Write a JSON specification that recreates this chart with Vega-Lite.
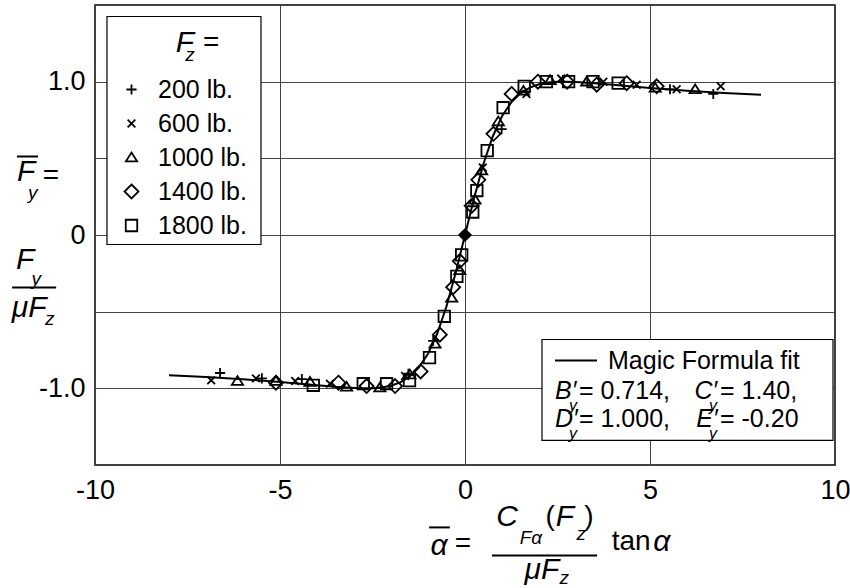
{
  "$schema": "https://vega.github.io/schema/vega-lite/v6.json",
  "width": 740,
  "height": 460,
  "autosize": {"type": "none"},
  "padding": {"left": 95, "top": 5, "right": 15, "bottom": 123},
  "config": {
    "view": {"stroke": "black", "strokeWidth": 1.5},
    "font": "Liberation Sans"
  },
  "datasets": {
    "fit": [
      {"x": -8, "y": -0.9145}, {"x": -7, "y": -0.9262}, {"x": -6, "y": -0.9409}, {"x": -5, "y": -0.9588},
      {"x": -4, "y": -0.9797}, {"x": -3.5, "y": -0.9901}, {"x": -3, "y": -0.9973}, {"x": -2.75, "y": -0.9999},
      {"x": -2.5, "y": -0.9992}, {"x": -2.25, "y": -0.9943}, {"x": -2, "y": -0.9829}, {"x": -1.75, "y": -0.9613},
      {"x": -1.5, "y": -0.9243}, {"x": -1.25, "y": -0.8648}, {"x": -1, "y": -0.7743}, {"x": -0.75, "y": -0.6425},
      {"x": -0.5, "y": -0.4651}, {"x": -0.25, "y": -0.2453}, {"x": 0, "y": 0},
      {"x": 0.25, "y": 0.2453}, {"x": 0.5, "y": 0.4651}, {"x": 0.75, "y": 0.6425}, {"x": 1, "y": 0.7743},
      {"x": 1.25, "y": 0.8648}, {"x": 1.5, "y": 0.9243}, {"x": 1.75, "y": 0.9613}, {"x": 2, "y": 0.9829},
      {"x": 2.25, "y": 0.9943}, {"x": 2.5, "y": 0.9992}, {"x": 2.75, "y": 0.9999}, {"x": 3, "y": 0.9973},
      {"x": 3.5, "y": 0.9901}, {"x": 4, "y": 0.9797}, {"x": 5, "y": 0.9588}, {"x": 6, "y": 0.9409},
      {"x": 7, "y": 0.9262}, {"x": 8, "y": 0.9145}
    ],
    "pts": [
      {"Fz": 200, "x": -6.62, "y": -0.9}, {"Fz": 200, "x": -5.49, "y": -0.935}, {"Fz": 200, "x": -4.41, "y": -0.94},
      {"Fz": 200, "x": -1.53, "y": -0.905}, {"Fz": 200, "x": -0.86, "y": -0.69}, {"Fz": 200, "x": 0.99, "y": 0.69},
      {"Fz": 200, "x": 5.54, "y": 0.95}, {"Fz": 200, "x": 6.71, "y": 0.92},
      {"Fz": 600, "x": -6.86, "y": -0.948}, {"Fz": 600, "x": -5.65, "y": -0.935}, {"Fz": 600, "x": -4.59, "y": -0.952},
      {"Fz": 600, "x": -3.65, "y": -0.97}, {"Fz": 600, "x": -1.62, "y": -0.92}, {"Fz": 600, "x": 0.48, "y": 0.44},
      {"Fz": 600, "x": 1.66, "y": 0.92}, {"Fz": 600, "x": 2.6, "y": 1.02}, {"Fz": 600, "x": 3.74, "y": 1.0},
      {"Fz": 600, "x": 4.64, "y": 0.98}, {"Fz": 600, "x": 5.72, "y": 0.95}, {"Fz": 600, "x": 6.91, "y": 0.97},
      {"Fz": 1000, "x": -6.15, "y": -0.952}, {"Fz": 1000, "x": -5.11, "y": -0.952}, {"Fz": 1000, "x": -4.19, "y": -0.958},
      {"Fz": 1000, "x": -3.2, "y": -0.99}, {"Fz": 1000, "x": -2.3, "y": -0.995}, {"Fz": 1000, "x": -1.49, "y": -0.91},
      {"Fz": 1000, "x": -0.81, "y": -0.71}, {"Fz": 1000, "x": -0.36, "y": -0.41}, {"Fz": 1000, "x": -0.14, "y": -0.23},
      {"Fz": 1000, "x": 0.27, "y": 0.23}, {"Fz": 1000, "x": 0.45, "y": 0.42}, {"Fz": 1000, "x": 0.9, "y": 0.74},
      {"Fz": 1000, "x": 1.58, "y": 0.94}, {"Fz": 1000, "x": 2.3, "y": 1.01}, {"Fz": 1000, "x": 3.29, "y": 1.0},
      {"Fz": 1000, "x": 5.14, "y": 0.96}, {"Fz": 1000, "x": 6.22, "y": 0.95},
      {"Fz": 1400, "x": -5.11, "y": -0.963}, {"Fz": 1400, "x": -3.42, "y": -0.963}, {"Fz": 1400, "x": -2.66, "y": -0.985},
      {"Fz": 1400, "x": -1.89, "y": -0.985}, {"Fz": 1400, "x": -1.2, "y": -0.89}, {"Fz": 1400, "x": -0.68, "y": -0.65},
      {"Fz": 1400, "x": -0.32, "y": -0.34}, {"Fz": 1400, "x": -0.14, "y": -0.17}, {"Fz": 1400, "x": 0.18, "y": 0.19},
      {"Fz": 1400, "x": 0.36, "y": 0.36}, {"Fz": 1400, "x": 0.77, "y": 0.66}, {"Fz": 1400, "x": 1.26, "y": 0.92},
      {"Fz": 1400, "x": 1.97, "y": 1.0}, {"Fz": 1400, "x": 2.76, "y": 1.0}, {"Fz": 1400, "x": 3.56, "y": 0.98},
      {"Fz": 1400, "x": 4.37, "y": 0.99}, {"Fz": 1400, "x": 5.18, "y": 0.97},
      {"Fz": 1800, "x": -4.1, "y": -0.98}, {"Fz": 1800, "x": -2.75, "y": -0.97}, {"Fz": 1800, "x": -2.12, "y": -0.97},
      {"Fz": 1800, "x": -1.5, "y": -0.95}, {"Fz": 1800, "x": -0.96, "y": -0.8}, {"Fz": 1800, "x": -0.56, "y": -0.53},
      {"Fz": 1800, "x": -0.22, "y": -0.27}, {"Fz": 1800, "x": -0.09, "y": -0.13}, {"Fz": 1800, "x": 0.21, "y": 0.15},
      {"Fz": 1800, "x": 0.32, "y": 0.29}, {"Fz": 1800, "x": 0.6, "y": 0.55}, {"Fz": 1800, "x": 1.03, "y": 0.83},
      {"Fz": 1800, "x": 1.6, "y": 0.97}, {"Fz": 1800, "x": 2.2, "y": 1.0}, {"Fz": 1800, "x": 2.8, "y": 1.0},
      {"Fz": 1800, "x": 3.46, "y": 1.0}, {"Fz": 1800, "x": 4.14, "y": 0.99}
    ],
    "origin": [{"x": 0, "y": 0}],
    "boxes": [
      {"x": -9.676, "x2": -5.514, "y": 1.425, "y2": -0.062},
      {"x": 2.081, "x2": 9.946, "y": -0.6815, "y2": -1.34}
    ],
    "rules": [
      {"x": -12.11, "x2": -11.54, "y": 0.512},
      {"x": -12.24, "x2": -11.05, "y": -0.342},
      {"x": -0.97, "x2": -0.41, "y": -1.907},
      {"x": 0.73, "x2": 3.57, "y": -2.091},
      {"x": 2.432, "x2": 3.568, "y": -0.8185}
    ],
    "it30": [
      {"t": "F", "x": -11.86, "y": 0.408},
      {"t": "F", "x": -11.89, "y": -0.16},
      {"t": "μF", "x": -11.78, "y": -0.473},
      {"t": "α", "x": -0.7, "y": -2.025},
      {"t": "C", "x": 1.135, "y": -1.836},
      {"t": "F", "x": 2.7, "y": -1.836},
      {"t": "μF", "x": 2.08, "y": -2.182},
      {"t": "α", "x": 5.32, "y": -2.005},
      {"t": "F", "x": -7.57, "y": 1.249}
    ],
    "sub20": [
      {"t": "y", "x": -11.68, "y": 0.277},
      {"t": "y", "x": -11.59, "y": -0.284},
      {"t": "z", "x": -11.22, "y": -0.545},
      {"t": "Fα", "x": 1.78, "y": -1.973},
      {"t": "z", "x": 3.14, "y": -1.947},
      {"t": "z", "x": 2.68, "y": -2.24},
      {"t": "z", "x": -7.43, "y": 1.171}
    ],
    "reg28": [
      {"t": "=", "x": -11.19, "y": 0.382},
      {"t": "=", "x": -0.054, "y": -2.018},
      {"t": "(", "x": 2.3, "y": -1.836},
      {"t": ")", "x": 3.35, "y": -1.836},
      {"t": "tan", "x": 4.49, "y": -2.005},
      {"t": "=", "x": -6.86, "y": 1.255}
    ],
    "boxreg": [
      {"t": "Magic Formula fit", "x": 3.865, "y": -0.8185},
      {"t": "= 0.714,", "x": 3.08, "y": -1.0205},
      {"t": "= 1.40,", "x": 6.892, "y": -1.0205},
      {"t": "= 1.000,", "x": 3.08, "y": -1.203},
      {"t": "= -0.20", "x": 6.892, "y": -1.203}
    ],
    "boxit": [
      {"t": "B′", "x": 2.432, "y": -1.0205},
      {"t": "C′", "x": 6.2, "y": -1.0205},
      {"t": "D′", "x": 2.432, "y": -1.203},
      {"t": "E′", "x": 6.25, "y": -1.203}
    ],
    "boxsub": [
      {"t": "y", "x": 2.92, "y": -1.112},
      {"t": "y", "x": 6.7, "y": -1.112},
      {"t": "y", "x": 2.92, "y": -1.295},
      {"t": "y", "x": 6.7, "y": -1.295}
    ]
  },
  "encoding": {
    "x": {"field": "x", "type": "quantitative", "scale": {"domain": [-10, 10], "nice": false, "zero": false},
      "axis": {"values": [-10, -5, 0, 5, 10], "title": null, "grid": true, "gridColor": "#444", "gridWidth": 1,
        "domain": false, "ticks": false, "labelFontSize": 27, "labelColor": "black", "labelPadding": 12,
        "labelFlush": false, "labelOverlap": false, "labelFont": "Liberation Sans",
        "labelExpr": "replace(datum.label, '\u2212', '-')"}},
    "y": {"field": "y", "type": "quantitative", "scale": {"domain": [-1.5, 1.5], "nice": false, "zero": false},
      "axis": {"values": [-1.5, -1, -0.5, 0, 0.5, 1, 1.5], "title": null, "grid": true, "gridColor": "#444", "gridWidth": 1,
        "domain": false, "ticks": false, "labelFontSize": 27, "labelColor": "black", "labelPadding": 10,
        "labelOverlap": false, "labelFont": "Liberation Sans",
        "labelExpr": "datum.value == 1 ? '1.0' : datum.value == -1 ? '-1.0' : datum.value == 0 ? '0' : ''"}}
  },
  "layer": [
    {
      "data": {"name": "fit"},
      "mark": {"type": "line", "color": "black", "strokeWidth": 2}
    },
    {
      "data": {"name": "pts"},
      "mark": {"type": "point", "filled": false, "color": "black", "strokeWidth": 1.8, "opacity": 1, "size": 196},
      "encoding": {
        "shape": {"field": "Fz", "type": "ordinal",
          "scale": {"domain": [200, 600, 1000, 1400, 1800],
            "range": ["M-0.72,0L0.72,0M0,-0.72L0,0.72", "M-0.55,-0.55L0.55,0.55M-0.55,0.55L0.55,-0.55",
              "M0,-0.7L0.8,0.55L-0.8,0.55Z", "M0,-1L1,0L0,1L-1,0Z", "M-0.82,-0.82L0.82,-0.82L0.82,0.82L-0.82,0.82Z"]},
          "legend": {"orient": "none", "legendX": 12, "legendY": 11, "title": " ", "titleFontSize": 36, "titlePadding": 13,
            "padding": 12, "labelFontSize": 25, "labelColor": "black", "symbolSize": 196,
            "labelFont": "Liberation Sans", "labelOffset": 14, "rowPadding": 8, "symbolStrokeColor": "black",
            "symbolStrokeWidth": 1.8, "labelExpr": "(datum.value < 1000 ? '\u2007' : '') + datum.label + ' lb.'"}}
      }
    },
    {
      "data": {"name": "origin"},
      "mark": {"type": "point", "shape": "diamond", "filled": true, "color": "black", "size": 200, "opacity": 1}
    },
    {
      "data": {"name": "boxes"},
      "mark": {"type": "rect", "fill": "white", "stroke": "black", "strokeWidth": 1.2},
      "encoding": {"x2": {"field": "x2"}, "y2": {"field": "y2"}}
    },
    {
      "data": {"name": "rules"},
      "mark": {"type": "rule", "color": "black", "strokeWidth": 2},
      "encoding": {"x2": {"field": "x2"}}
    },
    {
      "data": {"name": "it30"},
      "mark": {"type": "text", "font": "Liberation Sans", "fontStyle": "italic", "fontSize": 30, "align": "center", "baseline": "middle", "color": "black"},
      "encoding": {"text": {"field": "t"}}
    },
    {
      "data": {"name": "sub20"},
      "mark": {"type": "text", "font": "Liberation Sans", "fontStyle": "italic", "fontSize": 19, "align": "center", "baseline": "middle", "color": "black"},
      "encoding": {"text": {"field": "t"}}
    },
    {
      "data": {"name": "reg28"},
      "mark": {"type": "text", "font": "Liberation Sans", "fontSize": 28, "align": "center", "baseline": "middle", "color": "black"},
      "encoding": {"text": {"field": "t"}}
    },
    {
      "data": {"name": "boxreg"},
      "mark": {"type": "text", "font": "Liberation Sans", "fontSize": 25, "align": "left", "baseline": "middle", "color": "black"},
      "encoding": {"text": {"field": "t"}}
    },
    {
      "data": {"name": "boxit"},
      "mark": {"type": "text", "font": "Liberation Sans", "fontStyle": "italic", "fontSize": 25, "align": "left", "baseline": "middle", "color": "black"},
      "encoding": {"text": {"field": "t"}}
    },
    {
      "data": {"name": "boxsub"},
      "mark": {"type": "text", "font": "Liberation Sans", "fontStyle": "italic", "fontSize": 16, "align": "center", "baseline": "middle", "color": "black"},
      "encoding": {"text": {"field": "t"}}
    }
  ]
}
